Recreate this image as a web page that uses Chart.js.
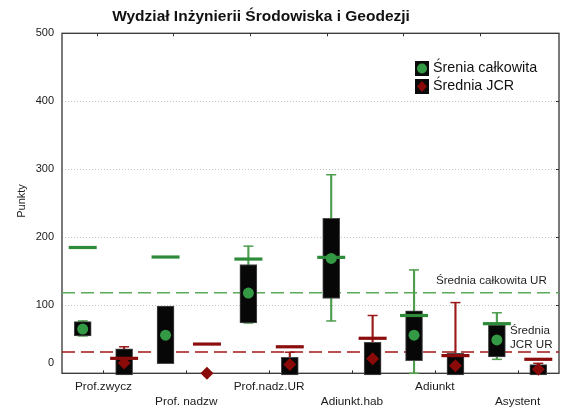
<!DOCTYPE html>
<html>
<head>
<meta charset="utf-8">
<script src="https://cdn.jsdelivr.net/npm/chart.js@4.4.1/dist/chart.umd.min.js"></script>
<style>
  body { margin: 0; background: #fff; }
  canvas { display: block; }
</style>
</head>
<body>
<canvas id="boxChart" width="563" height="410"></canvas>
<script>
// categories (each has a "total" series and a "JCR" series side by side)
var categories = ['Prof.zwycz', 'Prof. nadzw', 'Prof.nadz.UR', 'Adiunkt.hab', 'Adiunkt', 'Asystent'];

// Średnia całkowita (green)
var totalMean      = [65, 56, 118, 169, 56, 49];
var totalBoxLow    = [55, 14, 74, 110, 18.5, 24];
var totalBoxHigh   = [76, 99, 160, 228, 92, 71];
var totalWhiskLow  = [55, null, 74, 77, 0, 20.5];
var totalWhiskHigh = [77, null, 187, 292, 152, 89];
var totalMark      = [185, 171, 168, 170.5, 85, 73];

// Średnia JCR (red)
var jcrMean      = [15, 0, 13, 21.5, 11, 6];
var jcrBoxLow    = [-2.5, null, -2.5, -2.5, -2.5, -2.5];
var jcrBoxHigh   = [36, null, 23.5, 45.6, 29.4, 12.7];
var jcrWhiskLow  = [0, null, 0, 0, 0, 0];
var jcrWhiskHigh = [39, null, 31, 85, 104, 14.7];
var jcrMark      = [22, 43, 39, 51.5, 26, 20.6];

// university-wide averages
var totalUR = 118.5;
var jcrUR = 31.3;

var yTicks = [0, 100, 200, 300, 400, 500];

var GREEN = '#339944', GREEN_LINE = '#2e8b3a', GREEN_WHISK = '#4e9e4e', GREEN_REF = '#5aaa5a';
var RED = '#8a0a0a', RED_LINE = '#8b0d0d', RED_WHISK = '#9b1b1b', RED_REF = '#a51515';
var FONT = '"Liberation Sans", Arial, sans-serif';

function xOf(i, side) { return 2 * i + (side === 0 ? 0.5 : 1.5); }

function rangeData(lo, hi, side) {
  var out = [];
  for (var i = 0; i < categories.length; i++) {
    if (lo[i] === null || hi[i] === null) continue;
    out.push({ x: xOf(i, side), y: [lo[i], hi[i]] });
  }
  return out;
}
function pointData(vals, side) {
  var out = [];
  for (var i = 0; i < categories.length; i++) {
    if (vals[i] === null) continue;
    out.push({ x: xOf(i, side), y: vals[i] });
  }
  return out;
}
function capData(lo, hi, side) {
  return pointData(lo, side).concat(pointData(hi, side));
}

var datasets = [
  { type: 'line', data: [{ x: 0, y: totalUR }, { x: 12, y: totalUR }], borderColor: GREEN_REF, borderWidth: 1.6, borderDash: [13, 6], pointRadius: 0, order: 10 },
  { type: 'line', data: [{ x: 0, y: jcrUR }, { x: 12, y: jcrUR }], borderColor: RED_REF, borderWidth: 1.6, borderDash: [13, 6], pointRadius: 0, order: 10 },
  // whiskers
  { type: 'bar', data: rangeData(totalWhiskLow, totalWhiskHigh, 0), backgroundColor: GREEN_WHISK, barThickness: 1.5, grouped: false, borderWidth: 0, order: 9 },
  { type: 'bar', data: rangeData(jcrWhiskLow, jcrWhiskHigh, 1), backgroundColor: RED_WHISK, barThickness: 1.5, grouped: false, borderWidth: 0, order: 9 },
  { type: 'scatter', data: capData(totalWhiskLow, totalWhiskHigh, 0), pointStyle: 'line', pointRadius: 5, borderColor: GREEN_WHISK, borderWidth: 1.5, order: 8 },
  { type: 'scatter', data: capData(jcrWhiskLow, jcrWhiskHigh, 1), pointStyle: 'line', pointRadius: 5, borderColor: RED_WHISK, borderWidth: 1.5, order: 8 },
  // boxes
  { type: 'bar', data: rangeData(totalBoxLow, totalBoxHigh, 0), backgroundColor: '#070707', borderColor: '#4a4a4a', borderWidth: 1, borderSkipped: false, barThickness: 17, grouped: false, order: 7 },
  { type: 'bar', data: rangeData(jcrBoxLow, jcrBoxHigh, 1), backgroundColor: '#070707', borderColor: '#4a4a4a', borderWidth: 1, borderSkipped: false, barThickness: 17, grouped: false, order: 7 },
  // horizontal marks
  { type: 'scatter', data: pointData(totalMark, 0), pointStyle: 'line', pointRadius: 14, borderColor: GREEN_LINE, borderWidth: 3.2, order: 3 },
  { type: 'scatter', data: pointData(jcrMark, 1), pointStyle: 'line', pointRadius: 14, borderColor: RED_LINE, borderWidth: 3.2, order: 3 },
  // means
  { type: 'scatter', data: pointData(totalMean, 0), pointStyle: 'circle', pointRadius: 5.5, backgroundColor: GREEN, borderColor: GREEN, borderWidth: 0, order: 1 },
  { type: 'scatter', data: pointData(jcrMean, 1), pointStyle: 'rectRot', pointRadius: 6.5, backgroundColor: RED, borderColor: RED, borderWidth: 0, order: 1 }
];
datasets.forEach(function (d) { d.clip = false; });

var decorations = {
  id: 'decorations',
  beforeDatasetsDraw: function (chart) {
    var ctx = chart.ctx, a = chart.chartArea, xs = chart.scales.x, ys = chart.scales.y;
    ctx.save();
    ctx.strokeStyle = '#333';
    ctx.lineWidth = 1.3;
    ctx.strokeRect(a.left, a.top, a.right - a.left, a.bottom - a.top);
    ctx.lineWidth = 1;
    ctx.beginPath();
    for (var i = 0; i < categories.length; i++) {
      var px = Math.round(xs.getPixelForValue(2 * i + 1)) + 0.5;
      ctx.moveTo(px, a.bottom); ctx.lineTo(px, a.bottom - 3);
    }
    for (var k = 0; k < 6; k++) {
      var tx = Math.round(xs.getPixelForValue(0.84 + 1.85 * k)) + 0.5;
      ctx.moveTo(tx, a.top); ctx.lineTo(tx, a.top + 3);
    }
    for (var j = 1; j < yTicks.length - 1; j++) {
      var py = Math.round(ys.getPixelForValue(yTicks[j])) + 0.5;
      ctx.moveTo(a.right, py); ctx.lineTo(a.right - 3, py);
    }
    ctx.stroke();
    ctx.restore();
  },
  afterDraw: function (chart) {
    var ctx = chart.ctx, ys = chart.scales.y;
    ctx.save();
    ctx.fillStyle = '#111';
    ctx.textBaseline = 'middle';
    ctx.textAlign = 'center';
    ctx.font = 'bold 15.5px ' + FONT;
    ctx.fillText('Wydział Inżynierii Środowiska i Geodezji', 261, 17);

    ctx.save();
    ctx.translate(22, 201);
    ctx.rotate(-Math.PI / 2);
    ctx.font = '11px ' + FONT;
    ctx.fillStyle = '#222';
    ctx.fillText('Punkty', 0, 0);
    ctx.restore();

    // legend
    ctx.textAlign = 'left';
    ctx.font = '14.3px ' + FONT;
    ctx.fillStyle = '#0a0a0a';
    ctx.fillRect(415, 61, 14, 15);
    ctx.fillRect(415, 79, 14, 15);
    ctx.fillStyle = GREEN;
    ctx.beginPath(); ctx.arc(422, 68.5, 5, 0, Math.PI * 2); ctx.fill();
    ctx.fillStyle = RED;
    ctx.beginPath();
    ctx.moveTo(422, 81); ctx.lineTo(427, 86.5); ctx.lineTo(422, 92); ctx.lineTo(417, 86.5);
    ctx.closePath(); ctx.fill();
    ctx.fillStyle = '#111';
    ctx.fillText('Śrenia całkowita', 433, 68.5);
    ctx.fillText('Średnia JCR', 433, 86.5);

    // reference line labels
    ctx.font = '11.6px ' + FONT;
    ctx.fillStyle = '#222';
    ctx.fillText('Średnia całkowita UR', 436, ys.getPixelForValue(totalUR) - 12);
    ctx.fillText('Średnia', 510, ys.getPixelForValue(jcrUR) - 21);
    ctx.fillText('JCR UR', 510, ys.getPixelForValue(jcrUR) - 7.5);
    ctx.restore();
  }
};

var ctx = document.getElementById('boxChart');
var boxChart = new Chart(ctx, {
  type: 'scatter',
  data: { datasets: datasets },
  options: {
    responsive: false,
    animation: false,
    devicePixelRatio: 1,
    layout: { autoPadding: false, padding: { top: 33.3, right: 4, left: 0, bottom: 0 } },
    plugins: { legend: { display: false }, tooltip: { enabled: false }, title: { display: false } },
    scales: {
      x: {
        type: 'linear', min: 0, max: 12, offset: false,
        afterBuildTicks: function (scale) {
          scale.ticks = categories.map(function (c, i) { return { value: 2 * i + 1 }; });
        },
        afterFit: function (scale) { scale.height = 36.7; },
        grid: { display: false, drawTicks: false },
        border: { display: false },
        ticks: {
          autoSkip: false, maxRotation: 0, padding: 6, color: '#1a1a1a',
          font: { family: FONT, size: 11.8, lineHeight: 15 / 11.8 },
          callback: function (v, i) { return i % 2 === 0 ? categories[i] : ['', categories[i]]; }
        }
      },
      y: {
        min: 0, max: 500,
        afterBuildTicks: function (scale) {
          scale.ticks = yTicks.map(function (v) { return { value: v }; });
        },
        afterFit: function (scale) { scale.width = 62; },
        grid: {
          drawTicks: false,
          color: function (c) { return (c.tick && (c.tick.value === 0 || c.tick.value === 500)) ? 'rgba(0,0,0,0)' : '#c4c4c4'; }
        },
        border: { display: false, dash: [1, 2] },
        ticks: {
          padding: 8, color: '#1a1a1a',
          font: { family: FONT, size: 11, lineHeight: 1.8 },
          callback: function (v) { return v === 0 ? ['0', ''] : String(v); }
        }
      }
    }
  },
  plugins: [decorations]
});
</script>
</body>
</html>
